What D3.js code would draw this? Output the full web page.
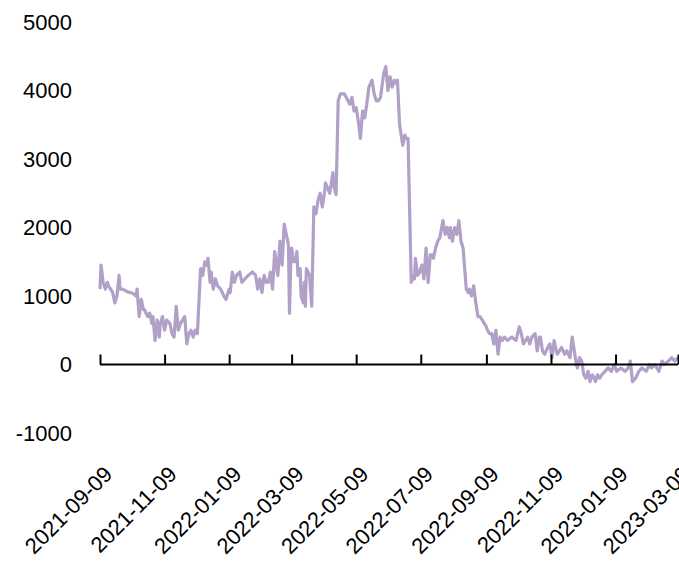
<!DOCTYPE html>
<html>
<head>
<meta charset="utf-8">
<script src="https://cdn.jsdelivr.net/npm/d3@7"></script>
<style>
  html, body { margin: 0; padding: 0; background: #fff; }
  svg { display: block; font-family: "Liberation Sans", Arial, sans-serif; }
</style>
</head>
<body>
<div id="chart"></div>
<script>
// Series
const dates = [
  '2021-09-09','2021-09-10','2021-09-12','2021-09-14','2021-09-16','2021-09-17','2021-09-19','2021-09-21','2021-09-23','2021-09-25',
  '2021-09-27','2021-09-28','2021-09-30','2021-10-03','2021-10-05','2021-10-08','2021-10-11','2021-10-13','2021-10-14','2021-10-16',
  '2021-10-18','2021-10-20','2021-10-21','2021-10-24','2021-10-26','2021-10-28','2021-10-29','2021-10-31','2021-11-02','2021-11-04',
  '2021-11-05','2021-11-07','2021-11-09','2021-11-11','2021-11-14','2021-11-16','2021-11-18','2021-11-20','2021-11-22','2021-11-24',
  '2021-11-26','2021-11-28','2021-11-30','2021-12-02','2021-12-04','2021-12-06','2021-12-08','2021-12-10','2021-12-13','2021-12-15',
  '2021-12-17','2021-12-19','2021-12-20','2021-12-22','2021-12-23','2021-12-25','2021-12-27','2021-12-29','2022-01-01','2022-01-04',
  '2022-01-06','2022-01-09','2022-01-10','2022-01-12','2022-01-14','2022-01-16','2022-01-19','2022-01-21','2022-01-24','2022-01-27',
  '2022-01-31','2022-02-03','2022-02-05','2022-02-07','2022-02-09','2022-02-11','2022-02-13','2022-02-15','2022-02-17','2022-02-19',
  '2022-02-21','2022-02-24','2022-02-26','2022-02-28','2022-03-02','2022-03-04','2022-03-06','2022-03-07','2022-03-08','2022-03-09',
  '2022-03-11','2022-03-13','2022-03-14','2022-03-15','2022-03-17','2022-03-18','2022-03-20','2022-03-21','2022-03-22','2022-03-23',
  '2022-03-26','2022-03-28','2022-03-30','2022-04-01','2022-04-03','2022-04-05','2022-04-07','2022-04-09','2022-04-10','2022-04-14',
  '2022-04-17','2022-04-18','2022-04-20','2022-04-22','2022-04-24','2022-04-28','2022-05-03','2022-05-05','2022-05-07','2022-05-09',
  '2022-05-11','2022-05-13','2022-05-15','2022-05-17','2022-05-19','2022-05-21','2022-05-24','2022-05-26','2022-05-28','2022-05-30',
  '2022-06-01','2022-06-04','2022-06-06','2022-06-08','2022-06-10','2022-06-12','2022-06-14','2022-06-16','2022-06-17','2022-06-19',
  '2022-06-22','2022-06-24','2022-06-25','2022-06-27','2022-06-30','2022-07-02','2022-07-03','2022-07-04','2022-07-06','2022-07-08',
  '2022-07-10','2022-07-12','2022-07-14','2022-07-16','2022-07-18','2022-07-20','2022-07-21','2022-07-23','2022-07-25','2022-07-27',
  '2022-07-30','2022-08-01','2022-08-03','2022-08-05','2022-08-06','2022-08-08','2022-08-10','2022-08-12','2022-08-14','2022-08-16',
  '2022-08-18','2022-08-21','2022-08-23','2022-08-24','2022-08-26','2022-08-28','2022-08-30','2022-09-01','2022-09-03','2022-09-05',
  '2022-09-07','2022-09-09','2022-09-10','2022-09-12','2022-09-14','2022-09-16','2022-09-18','2022-09-20','2022-09-22','2022-09-24',
  '2022-09-26','2022-09-29','2022-10-03','2022-10-07','2022-10-10','2022-10-12','2022-10-14','2022-10-16','2022-10-18','2022-10-20',
  '2022-10-22','2022-10-25','2022-10-27','2022-10-29','2022-10-30','2022-11-01','2022-11-03','2022-11-06','2022-11-08','2022-11-10',
  '2022-11-12','2022-11-14','2022-11-15','2022-11-17','2022-11-19','2022-11-22','2022-11-24','2022-11-27','2022-11-29','2022-12-01',
  '2022-12-03','2022-12-04','2022-12-06','2022-12-08','2022-12-10','2022-12-12','2022-12-14','2022-12-16','2022-12-18','2022-12-20',
  '2022-12-21','2022-12-23','2022-12-25','2022-12-27','2022-12-30','2023-01-02','2023-01-05','2023-01-08','2023-01-10','2023-01-14',
  '2023-01-18','2023-01-21','2023-01-23','2023-01-25','2023-01-28','2023-01-31','2023-02-03','2023-02-07','2023-02-10','2023-02-12',
  '2023-02-15','2023-02-19','2023-02-22','2023-02-24','2023-02-28','2023-03-03','2023-03-06','2023-03-09'
];
const values = [
  1100,1450,1200,1100,1200,1150,1100,1050,900,1000,
  1300,1100,1100,1080,1060,1050,1030,1000,1100,700,
  950,800,800,700,750,600,700,350,650,400,
  600,700,500,650,600,450,400,850,500,600,
  650,700,300,450,500,400,500,450,1400,1300,
  1500,1450,1550,1200,1350,1100,1250,1150,1100,1000,
  950,1100,1050,1350,1200,1300,1350,1200,1250,1300,
  1350,1300,1100,1250,1050,1300,1200,1200,1350,1100,
  1650,1300,1800,1450,2050,1900,1750,750,1400,1700,
  1500,1500,1650,1300,1400,1000,900,1200,850,1400,
  1300,850,2300,2200,2400,2500,2300,2500,2650,2500,
  2800,2600,2480,3850,3950,3950,3800,3900,3700,3750,
  3550,3300,3700,3600,3800,4050,4150,3950,3850,3850,
  3900,4250,4350,4000,4200,4050,4150,4100,4150,3500,
  3200,3350,3300,3300,1200,1300,1250,1550,1300,1350,
  1450,1250,1700,1200,1600,1600,1550,1700,1800,1850,
  2100,1900,2000,1850,2000,1800,2000,1900,2100,1800,
  1700,1100,1050,1100,1000,1150,900,700,700,650,
  600,550,500,450,450,300,500,150,400,350,
  400,350,400,350,550,450,300,350,400,300,
  400,450,200,400,400,200,150,250,300,100,
  350,200,150,200,250,150,200,100,400,200,
  0,-50,100,50,-150,-200,-100,-250,-150,-200,
  -250,-150,-200,-150,-100,-50,-100,0,-100,-50,
  -100,-50,50,-250,-200,-100,-50,-100,0,-50,
  0,-100,50,0,50,100,50,100
];
const xTickLabels = ['2021-09-09','2021-11-09','2022-01-09','2022-03-09','2022-05-09',
  '2022-07-09','2022-09-09','2022-11-09','2023-01-09','2023-03-09'];
const yTicks = [-1000, 0, 1000, 2000, 3000, 4000, 5000];

const W = 679, H = 562;
const parse = d3.timeParse('%Y-%m-%d');
const series = dates.map((d, i) => ({ date: parse(d), value: values[i] }));

const x = d3.scaleTime()
  .domain([parse('2021-09-09'), parse('2023-03-09')])
  .range([100, 678]);
const y = d3.scaleLinear().domain([-1000, 5000]).range([433, 22]);

const svg = d3.select('#chart').append('svg')
  .attr('width', W).attr('height', H);

// y labels (no axis line, no gridlines)
svg.append('g').selectAll('text')
  .data(yTicks)
  .join('text')
  .attr('x', 72).attr('y', d => y(d))
  .attr('dy', '0.36em')
  .attr('text-anchor', 'end')
  .attr('font-size', 22)
  .attr('fill', '#000')
  .text(d => d);

// line
const line = d3.line().x(d => x(d.date)).y(d => y(d.value));
svg.append('path')
  .datum(series)
  .attr('fill', 'none')
  .attr('stroke', '#b1a0c7')
  .attr('stroke-width', 3.2)
  .attr('stroke-linejoin', 'round')
  .attr('d', line);

// x axis at zero, ticks pointing up
const xAxisG = svg.append('g').attr('transform', `translate(0,${y(0)})`);
xAxisG.call(d3.axisTop(x)
  .tickValues(xTickLabels.map(parse))
  .tickSize(10)
  .tickFormat(''));
xAxisG.select('.domain').attr('stroke', '#000').attr('stroke-width', 2)
  .attr('d', `M${x.range()[0]},0H${x.range()[1]}`);
xAxisG.selectAll('.tick line').attr('stroke', '#000').attr('stroke-width', 2);

// rotated date labels at the bottom
svg.append('g').selectAll('text')
  .data(xTickLabels)
  .join('text')
  .attr('transform', d => `translate(${x(parse(d)) + 2},${464}) rotate(-45)`)
  .attr('text-anchor', 'end')
  .attr('dy', '0.75em')
  .attr('font-size', 22)
  .attr('fill', '#000')
  .text(d => d);
</script>
</body>
</html>
